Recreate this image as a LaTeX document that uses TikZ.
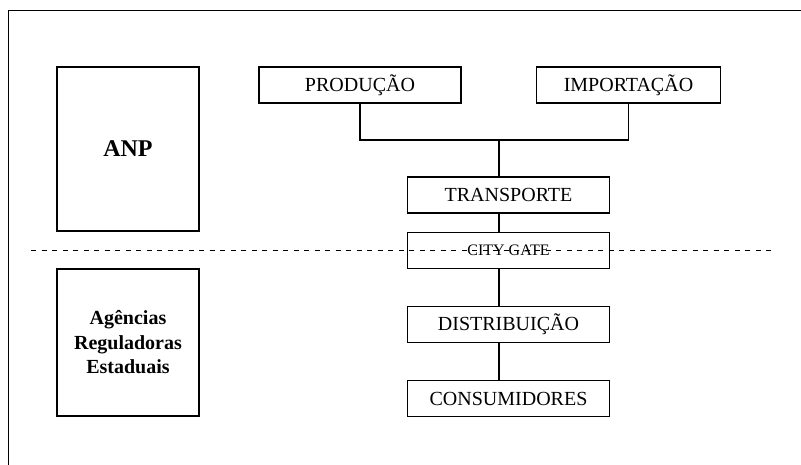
\documentclass[tikz,border=0pt]{standalone}
\usepackage{fontspec}
\setmainfont{Liberation Serif}
\tikzstyle{etapa}=[draw, line width=1.2pt, minimum width=202pt, minimum height=36pt, inner sep=0pt, font=\fontsize{20}{24}\selectfont]
\tikzstyle{orgao}=[draw, line width=2.6pt, minimum width=142pt, inner sep=0pt, align=center, font=\bfseries\fontsize{20}{24.5}\selectfont]
\tikzstyle{linha}=[draw=black, line width=1.2pt]
\begin{document}
\begin{tikzpicture}[x=1pt, y=-1pt]
	\useasboundingbox (0,0) rectangle (801,465);
	\begin{scope}
		% moldura
		\coordinate (fa) at (8.3,465);
		\coordinate (fb) at (8.3,10.7);
		\coordinate (fc) at (801,10.7);
		\path [linha] (fa) -- (fb) -- (fc);
	\end{scope}
	\begin{scope}
		\node (anp) at (128,149) [orgao, minimum height=164pt, font=\bfseries\fontsize{24}{28}\selectfont] {ANP};
		\node (agencias) at (128,342.5) [orgao, minimum height=147pt] {Agências\\Reguladoras\\Estaduais};
		\node (prod) at (360,85) [etapa] {PRODUÇÃO};
		\node (imp) at (628.5,85) [etapa, minimum width=184pt] {IMPORTAÇÃO};
		\node (transp) at (508.5,195) [etapa] {TRANSPORTE};
		\node (city) at (508.5,250.5) [etapa, font=\fontsize{16}{19}\selectfont] {CITY GATE};
		\node (distr) at (508.5,324.5) [etapa] {DISTRIBUIÇÃO};
		\node (cons) at (508.5,398.5) [etapa] {CONSUMIDORES};
		\coordinate (juncao) at (499,140);
		\coordinate (da) at (31,251);
		\coordinate (db) at (776,251);
	\end{scope}
	\begin{scope}
		\path [linha] (prod.south) |- (juncao) -| (imp.south);
		\path [linha] (juncao) -- (juncao |- transp.north);
		\path [linha] (juncao |- transp.south) -- (juncao |- city.north);
		\path [linha] (juncao |- city.south) -- (juncao |- distr.north);
		\path [linha] (juncao |- distr.south) -- (juncao |- cons.north);
		\path [draw, line width=1pt, dash pattern=on 5pt off 5.5pt] (da) -- (db);
	\end{scope}
\end{tikzpicture}
\end{document}
